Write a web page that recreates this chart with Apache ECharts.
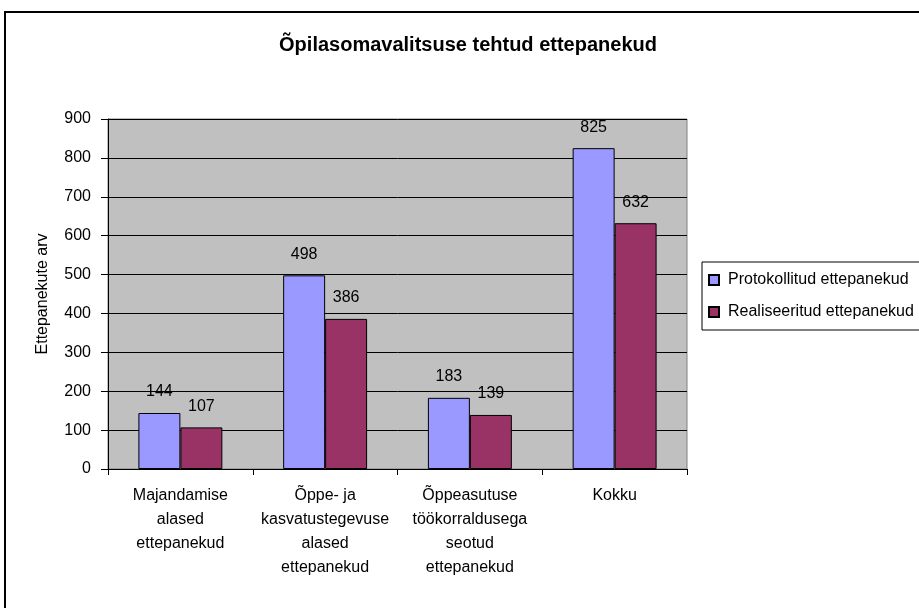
<!DOCTYPE html>
<html>
<head>
<meta charset="utf-8">
<script src="https://cdn.jsdelivr.net/npm/echarts@6/dist/echarts.min.js"></script>
<style>
  html, body { margin: 0; padding: 0; background: #fff; }
  #wrap { position: relative; width: 919px; height: 608px; overflow: hidden; }
  #frame { position: absolute; left: 4px; top: 11px; width: 1000px; height: 700px; border: 2px solid #000; box-sizing: border-box; }
  #main { position: absolute; left: 0; top: 0; width: 919px; height: 608px; }
</style>
</head>
<body>
<div id="wrap">
  <div id="frame"></div>
  <div id="main"></div>
</div>
<script>
// andmed
var categories = [
  'Majandamise\nalased\nettepanekud',
  'Õppe- ja\nkasvatustegevuse\nalased\nettepanekud',
  'Õppeasutuse\ntöökorraldusega\nseotud\nettepanekud',
  'Kokku'
];
var protokollitud = [144, 498, 183, 825];
var realiseeritud = [107, 386, 139, 632];
var seriesNames = ['Protokollitud ettepanekud', 'Realiseeritud ettepanekud'];

var font = 'Liberation Sans, Arial, sans-serif';

var myChart = echarts.init(document.getElementById('main'));

var option = {
  animation: false,
  title: {
    text: 'Õpilasomavalitsuse tehtud ettepanekud',
    left: 463,
    top: 30,
    textAlign: 'center',
    textStyle: { fontFamily: font, fontSize: 20, fontWeight: 'bold', color: '#000' }
  },
  legend: {
    orient: 'vertical',
    left: 702,
    top: 262,
    width: 300,
    padding: [10, 40, 10, 6],
    itemGap: 16,
    itemWidth: 10,
    itemHeight: 10,
    icon: 'rect',
    borderColor: '#000',
    borderWidth: 1,
    backgroundColor: '#fff',
    textStyle: { fontFamily: font, fontSize: 16, color: '#000', padding: [0, 0, 0, 4] },
    data: seriesNames
  },
  grid: {
    left: 108,
    right: 232,
    top: 119,
    bottom: 139,
    show: true,
    backgroundColor: '#C0C0C0',
    borderColor: '#808080',
    borderWidth: 1
  },
  xAxis: {
    type: 'category',
    data: categories,
    axisLine: { lineStyle: { color: '#000' } },
    axisTick: { show: true, length: 6, lineStyle: { color: '#000' } },
    axisLabel: {
      interval: 0,
      margin: 15,
      lineHeight: 24,
      fontFamily: font,
      fontSize: 16,
      color: '#000'
    }
  },
  yAxis: {
    type: 'value',
    min: 0,
    max: 900,
    interval: 100,
    name: 'Ettepanekute arv',
    nameLocation: 'middle',
    nameGap: 57,
    nameTextStyle: { fontFamily: font, fontSize: 16, color: '#000' },
    axisLine: { show: true, lineStyle: { color: '#000' } },
    axisTick: { show: true, length: 7, lineStyle: { color: '#000' } },
    axisLabel: { margin: 17, fontFamily: font, fontSize: 16, color: '#000' },
    splitLine: { show: true, lineStyle: { color: '#000', width: 1 } }
  },
  series: [
    {
      name: seriesNames[0],
      type: 'bar',
      data: protokollitud,
      barGap: '0%',
      barCategoryGap: '42%',
      itemStyle: { color: '#9999FF', borderColor: '#000', borderWidth: 1 },
      label: { show: true, position: 'top', distance: 13, fontFamily: font, fontSize: 16, color: '#000' }
    },
    {
      name: seriesNames[1],
      type: 'bar',
      data: realiseeritud,
      barGap: '0%',
      barCategoryGap: '42%',
      itemStyle: { color: '#993366', borderColor: '#000', borderWidth: 1 },
      label: { show: true, position: 'top', distance: 13, fontFamily: font, fontSize: 16, color: '#000' }
    }
  ]
};

myChart.setOption(option);
window.addEventListener('resize', function () {
  myChart.resize();
});
</script>
</body>
</html>
